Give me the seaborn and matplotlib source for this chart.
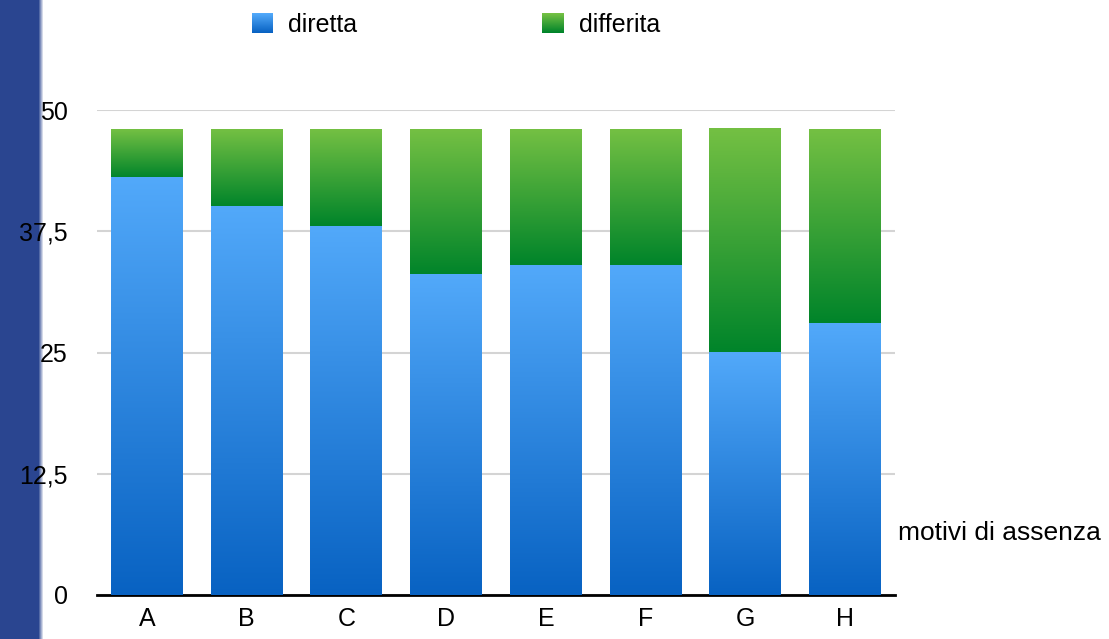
import numpy as np
import pandas as pd
import matplotlib
matplotlib.use("Agg")
import matplotlib.pyplot as plt
import seaborn as sns
from matplotlib.patches import Patch, Rectangle
from matplotlib.legend_handler import HandlerBase

# dati
categorie = ["A", "B", "C", "D", "E", "F", "G", "H"]
diretta = [43, 40, 38, 33, 34, 34, 25, 28]
differita = [5, 8, 10, 15, 14, 14, 23, 20]
tick_y = [0, 12.5, 25, 37.5, 50]
tick_lab = ["0", "12,5", "25", "37,5", "50"]

df = pd.DataFrame({"motivo": categorie, "diretta": diretta, "differita": differita})
df["totale"] = df["diretta"] + df["differita"]

sns.set_style("white")
plt.rcParams["font.family"] = ["Liberation Sans", "DejaVu Sans"]
plt.rcParams["text.color"] = "black"

fig = plt.figure(figsize=(11.09, 6.39), dpi=100)
ax = fig.add_axes([97 / 1109, 44 / 639, 798 / 1109, 485 / 639])

sns.barplot(data=df, x="motivo", y="totale", color="#3aa33a", width=0.72,
            saturation=1, ax=ax, zorder=2)
sns.barplot(data=df, x="motivo", y="diretta", color="#2a86e0", width=0.72,
            saturation=1, ax=ax, zorder=3)


def sfumatura(c_alto, c_basso, n=256):
    a = np.array(matplotlib.colors.to_rgb(c_alto))
    b = np.array(matplotlib.colors.to_rgb(c_basso))
    t = np.linspace(0, 1, n)[:, None]
    return (a * (1 - t) + b * t)[:, None, :]


colori = {"verde": ("#74c043", "#00842a"), "blu": ("#52a9fa", "#0862c2")}
grad_verde = sfumatura(*colori["verde"])
grad_blu = sfumatura(*colori["blu"])
n_bar = len(categorie)
for i, p in enumerate(ax.patches):
    x0, w = p.get_x(), p.get_width()
    if i < n_bar:
        # parte verde: da cima della diretta a cima del totale
        y0, y1 = diretta[i], p.get_height()
        g = grad_verde
    else:
        y0, y1 = 0, p.get_height()
        g = grad_blu
    p.set_visible(False)
    ax.imshow(g, extent=(x0, x0 + w, y0, y1), aspect="auto",
              interpolation="bilinear", zorder=3)

ax.set_xlim(-0.5, n_bar - 0.5)
ax.set_ylim(0, 50)
ax.set_yticks(tick_y)
ax.set_yticklabels(tick_lab)
ax.yaxis.grid(True, color="#d4d4d4", linewidth=1.5, zorder=0)
ax.set_axisbelow(True)
for s in ["top", "right", "left"]:
    ax.spines[s].set_visible(False)
ax.spines["bottom"].set_color("black")
ax.spines["bottom"].set_linewidth(2)
ax.tick_params(axis="both", length=0, labelsize=18, colors="black",
               labelcolor="black")
ax.tick_params(axis="y", pad=21)
ax.tick_params(axis="x", pad=9)
ax.set_xlabel("")
ax.set_ylabel("")

fig.text(898 / 1109, 1 - 533 / 639, "motivi di assenza", fontsize=19,
         va="center", ha="left", color="black")


# legenda con quadratini sfumati
class HandlerSfumato(HandlerBase):
    def create_artists(self, legend, orig_handle, xdescent, ydescent,
                       width, height, fontsize, trans):
        g = sfumatura(*orig_handle.grad, n=20)[:, 0, :]
        h = height / len(g)
        out = []
        for k, c in enumerate(g):
            r = Rectangle((-xdescent, -ydescent + height - (k + 1) * h), width, h * 1.05,
                          facecolor=c, edgecolor="none", transform=trans)
            out.append(r)
        return out


maniglie = []
for nome, chiave in [("diretta", "blu"), ("differita", "verde")]:
    m = Patch(label=nome)
    m.grad = colori[chiave]
    maniglie.append(m)
leg = fig.legend(handles=maniglie, loc="center", bbox_to_anchor=(456 / 1109, 1 - 25 / 639),
                 ncol=2, frameon=False, fontsize=18, handlelength=0.85, handleheight=0.85,
                 handletextpad=0.6, columnspacing=7.4,
                 handler_map={Patch: HandlerSfumato()})
for t in leg.get_texts():
    t.set_color("black")

# banda blu a sinistra, sotto le etichette
ax_bg = fig.add_axes([0, 0, 44 / 1109, 1], zorder=-1)
blu_scuro = np.array(matplotlib.colors.to_rgb("#2a4590"))
col = np.ones((1, 44, 3)) * blu_scuro
fade = np.linspace(0, 1, 6)[:, None]
col[0, 38:] = blu_scuro * (1 - fade) + fade
ax_bg.imshow(col, aspect="auto", interpolation="nearest", extent=(0, 44, 0, 1))
ax_bg.set_axis_off()

fig.savefig("out.png", dpi=100)
